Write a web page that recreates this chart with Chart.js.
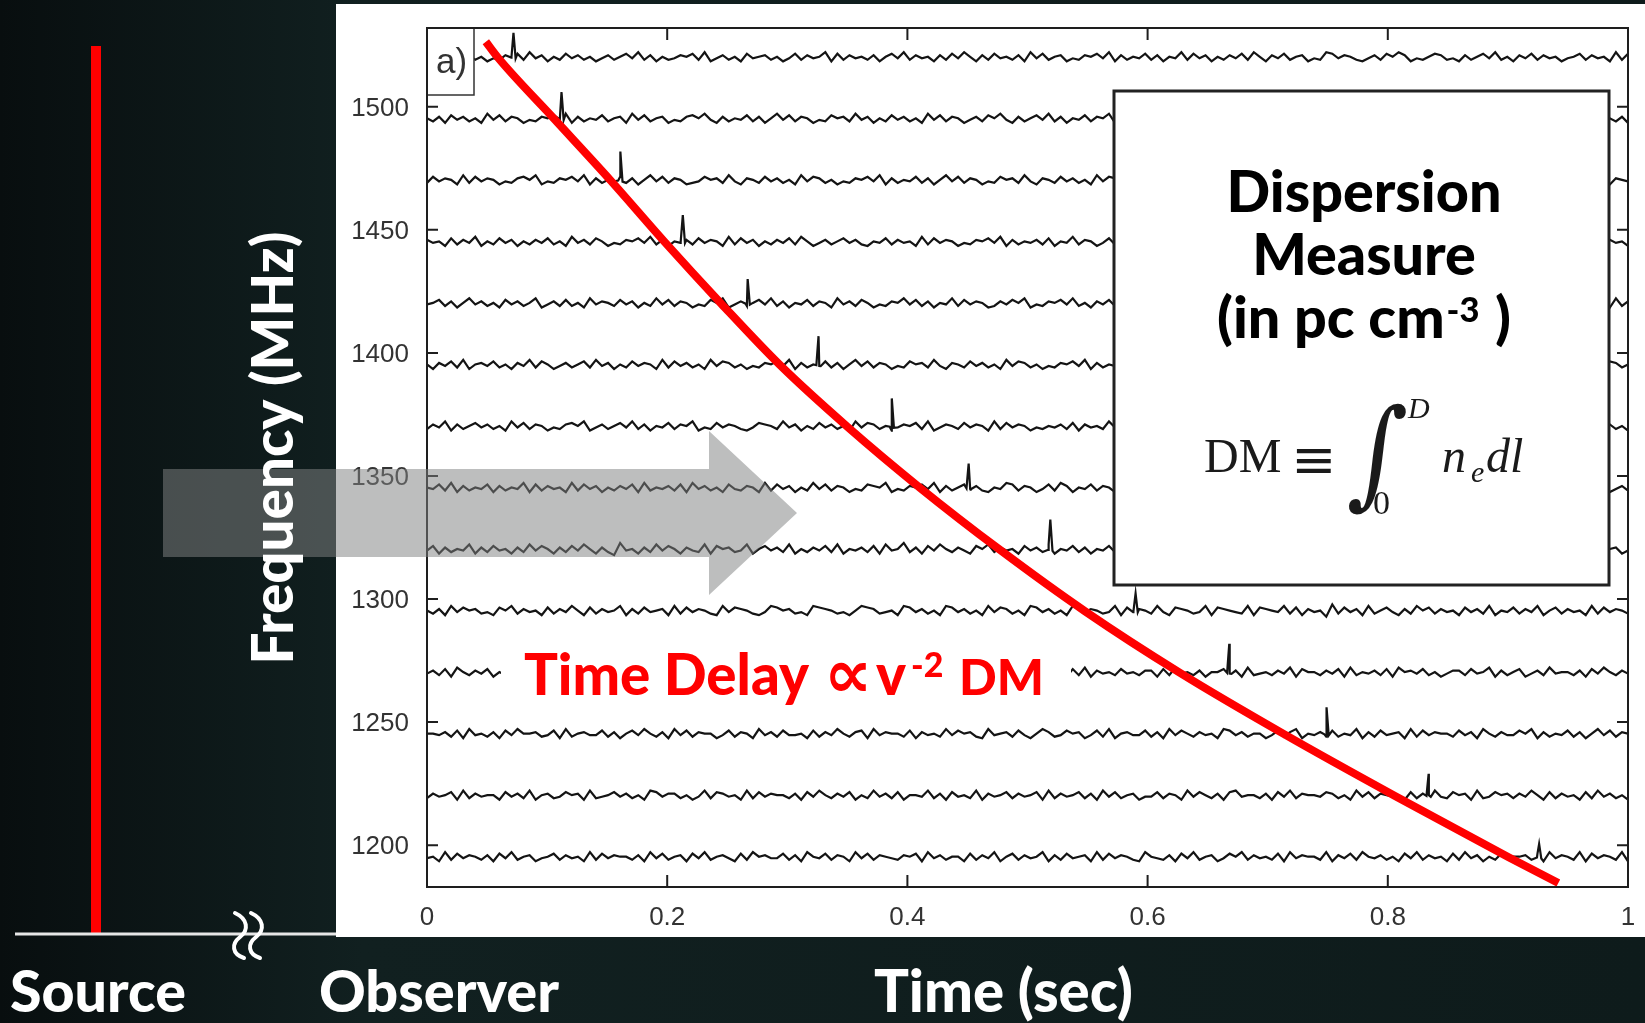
<!DOCTYPE html>
<html>
<head>
<meta charset="utf-8">
<script src="https://cdn.jsdelivr.net/npm/chart.js@4.4.0/dist/chart.umd.min.js"></script>
<style>
  html, body { margin: 0; padding: 0; background: #0c1616; overflow: hidden; }
  canvas { display: block; }
</style>
</head>
<body>
<canvas id="dispersionChart" width="1645" height="1023"></canvas>
<script>
// channel centre frequencies (MHz), top to bottom
const channels = [1520, 1495, 1470, 1445, 1420, 1395, 1370, 1345, 1320, 1295, 1270, 1245, 1220, 1195];
// arrival time of the pulse in each channel (sec)
const pulseTimes = [0.072, 0.112, 0.161, 0.213, 0.267, 0.326, 0.387, 0.451, 0.519, 0.590, 0.668, 0.749, 0.834, 0.926];
// pulse height above the channel baseline (MHz)
const pulseHeights = [10, 11, 11.8, 11, 10, 11.8, 11.5, 10, 12.3, 7.3, 11.8, 11, 9, 5.5];
// noise along each trace, one digit per sample, 4.5 = baseline
const traceNoise = [
  '46352746352436573846253746352463574836253465738246352745635247364582736453625748364526374852637453628473562436574826354736254837462536473852647356243874653246375862435763426357483526473645245736452837',
  '53627463528473652436574826354735628473562436758426354736258473652437563846253746352847365246375842635748362547365824374653247653846253746352847635246573824653746528374652435463726453846273546372845362',
  '37465283746524367582436574826354736258473652347563842653746352847635243657482635473625847365243756384265374635284763524365748263547362584736524374635283746524367582436574826354736258473652347563842654',
  '64527364825374625364735284637524365748362546374652837462536473852463574632547364528374652436574826354637254836524736528473645237465382647352643758463527463582647352645374625384736254364752836452736452',
  '45736258463527463582463735284653746253847365243758246357483625473652846375243658473625483746523647582436574835264735284637524635847362543674835264736253847362546375284637524635847362547365824637452836',
  '52647382564735264837524635738462537465283746352847635243657482635473625847365243756384265374635284763524365748263547362584736524375638426537463528476352436574826354736258473652437563842653746352847635',
  '36482635746352847365243675824635748362547365824374653247653846253746352847635246573824653746528374652435463726453846273546372845362546372846372546381946352736452836475362475836254736485273645273846352',
  '54738263547263548273645283746253647283546372846352743652837462538473652437658243657482635746325487365247386254736524374826357482635473625847365247385624374652837465243657382645374625384763526437582463',
  '47263548263745263847526374852631945263847526438275634825746382536473825463728459362748536427583645274638254736254738625473625487362654739265483726547352645738263574628357463758264357283647536284735624',
  '53628475634275836452736485273645826374562837465328476532487563428765342587634528746352874635284763528746352874653482746538427653482765438276548372645193746283574263857364527463825473648257364528374653',
  '46372853647253846372546382745637294563827465328463527483645273846253748362547382645372846538274653824455362738264537453662738453625574628345364827553647283546372856473524663745826357246384553627485364',
  '55463728453627485563472835644736257485362847365524736528463744527364853672846553726453847563284563742586347562473825644736284753645287463552473682546373548263745628374655374628536447582635473625847365',
  '36457283645527463825634756283457463528746635248376452837465536274853647253846372554836274538264573645728364573628473562447365284753627845536274836554763528473654427365843756283475636485273645273846352',
  '45283746536274835624573645283746553628473562748356427385644736285473652847365436572846355273648257364582637456283746532854362748356247583645372846553826473854635274836452738462537455637284653827465382'
];
const noiseStep = 0.62;   // MHz per noise digit
// red guide curve (where it crosses each channel)
const curveTimes = [0.049, 0.059, 0.106, 0.153, 0.198, 0.245, 0.294, 0.350, 0.411, 0.477, 0.548, 0.627, 0.714, 0.806, 0.901, 0.942];
const curveFreqs = [1526.4, 1520, 1495, 1470, 1445, 1420, 1395, 1370, 1345, 1320, 1295, 1270, 1245, 1220, 1195, 1184.6];
// axis ticks
const xTicks = [0, 0.2, 0.4, 0.6, 0.8, 1];
const yTicks = [1200, 1250, 1300, 1350, 1400, 1450, 1500];

const traceSets = channels.map((f, k) => {
  const digits = traceNoise[k];
  const pts = [];
  for (let i = 0; i < digits.length; i++) {
    pts.push({ x: i / (digits.length - 1), y: f + (Number(digits[i]) - 4.5) * noiseStep });
  }
  const tp = pulseTimes[k];
  pts.push({ x: tp - 0.0018, y: f }, { x: tp, y: f + pulseHeights[k] }, { x: tp + 0.0018, y: f - 0.4 });
  pts.sort((a, b) => a.x - b.x);
  return { data: pts, borderColor: '#141414', borderWidth: 2.2, pointRadius: 0, tension: 0, order: 1 };
});

const curveSet = {
  data: curveTimes.map((t, i) => ({ x: t, y: curveFreqs[i] })),
  borderColor: '#ff0000', borderWidth: 8, pointRadius: 0,
  cubicInterpolationMode: 'monotone', borderCapStyle: 'butt', order: 0
};

function fitFont(ctx, text, width, weight, family) {
  ctx.font = `${weight} 100px ${family}`;
  return 100 * width / ctx.measureText(text).width;
}

const slide = {
  id: 'slide',
  beforeDraw(chart) {
    const { ctx, width, height } = chart;
    const g = ctx.createLinearGradient(0, 0, width, 0);
    g.addColorStop(0, '#080e0f');
    g.addColorStop(0.22, '#112020');
    g.addColorStop(1, '#0e1b1b');
    ctx.save();
    ctx.fillStyle = g;
    ctx.fillRect(0, 0, width, height);
    ctx.fillStyle = '#fff';
    ctx.fillRect(336, 4, width - 336, 933);
    ctx.restore();
  },
  afterDatasetsDraw(chart) {
    const { ctx, chartArea: a, scales: { x, y } } = chart;
    ctx.save();
    ctx.textAlign = 'left';
    ctx.textBaseline = 'alphabetic';

    // white box behind the red caption, inset box, panel label box
    ctx.fillStyle = '#fff';
    ctx.fillRect(501, 641, 570, 72);
    ctx.fillRect(1114, 91, 495, 494);
    ctx.fillRect(a.left, a.top, 47, 67);
    ctx.strokeStyle = '#222';
    ctx.lineWidth = 3;
    ctx.strokeRect(1114, 91, 495, 494);
    ctx.lineWidth = 1.5;
    ctx.strokeStyle = '#333';
    ctx.strokeRect(a.left, a.top, 47, 67);
    ctx.fillStyle = '#333';
    ctx.font = '35px "Liberation Sans"';
    ctx.fillText('a)', 436, 73);

    // frame with inward ticks
    ctx.strokeStyle = '#1e1e1e';
    ctx.lineWidth = 2;
    ctx.strokeRect(a.left, a.top, a.right - a.left, a.bottom - a.top);
    ctx.beginPath();
    x.ticks.forEach(t => {
      const px = x.getPixelForValue(t.value);
      ctx.moveTo(px, a.bottom); ctx.lineTo(px, a.bottom - 12);
      ctx.moveTo(px, a.top); ctx.lineTo(px, a.top + 12);
    });
    y.ticks.forEach(t => {
      const py = y.getPixelForValue(t.value);
      ctx.moveTo(a.left, py); ctx.lineTo(a.left + 11, py);
      ctx.moveTo(a.right, py); ctx.lineTo(a.right - 11, py);
    });
    ctx.stroke();

    // red caption
    ctx.fillStyle = '#ff0000';
    const cs = fitFont(ctx, 'Time Delay', 285, '900', 'Lato');
    ctx.font = `900 ${cs}px Lato`;
    ctx.fillText('Time Delay', 524, 695);
    ctx.fillText('v', 876, 695);
    ctx.font = `900 ${fitFont(ctx, 'DM', 85, '900', 'Lato')}px Lato`;
    ctx.fillText('DM', 959, 695);
    ctx.font = `bold ${cs * 1.2}px "DejaVu Sans"`;
    ctx.fillText('\u221d', 824, 697);
    ctx.font = `900 ${cs * 0.6}px Lato`;
    ctx.fillText('-2', 911, 677);

    // inset text
    ctx.fillStyle = '#000';
    const ds = fitFont(ctx, 'Dispersion', 275, '900', 'Lato');
    ctx.font = `900 ${ds}px Lato`;
    ctx.textAlign = 'center';
    ctx.fillText('Dispersion', 1364, 212);
    ctx.fillText('Measure', 1364, 275);
    ctx.textAlign = 'left';
    const w1 = ctx.measureText('(in pc cm').width;
    const w3 = ctx.measureText(' )').width;
    ctx.font = `900 ${ds * 0.6}px Lato`;
    const w2 = ctx.measureText('-3').width;
    const x0 = 1364 - (w1 + w2 + w3 + 4) / 2;
    ctx.fillText('-3', x0 + w1 + 2, 322);
    ctx.font = `900 ${ds}px Lato`;
    ctx.fillText('(in pc cm', x0, 338);
    ctx.fillText(' )', x0 + w1 + w2 + 4, 338);

    // formula
    ctx.fillStyle = '#1a1a1a';
    ctx.font = '48px "Liberation Serif"';
    ctx.fillText('DM', 1204, 472);
    ctx.font = '54px "DejaVu Serif"';
    ctx.fillText('\u2261', 1291, 478);
    ctx.save();
    ctx.translate(1348, 493);
    ctx.transform(1, 0, -0.1, 1, 0, 0);
    ctx.scale(1, 1.18);
    ctx.font = '100px "DejaVu Serif"';
    ctx.fillText('\u222b', 0, 0);
    ctx.restore();
    ctx.font = 'italic 30px "Liberation Serif"';
    ctx.fillText('D', 1408, 418);
    ctx.fillText('e', 1471, 482);
    ctx.font = '34px "Liberation Serif"';
    ctx.fillText('0', 1373, 514);
    ctx.font = 'italic 48px "Liberation Serif"';
    ctx.fillText('n', 1442, 472);
    ctx.fillText('dl', 1486, 472);
    ctx.restore();
  },
  afterDraw(chart) {
    const { ctx } = chart;
    ctx.save();

    // translucent arrow
    ctx.fillStyle = 'rgba(128,130,130,0.52)';
    ctx.beginPath();
    ctx.moveTo(163, 469); ctx.lineTo(709, 469); ctx.lineTo(709, 431);
    ctx.lineTo(797, 513); ctx.lineTo(709, 595); ctx.lineTo(709, 557);
    ctx.lineTo(163, 557); ctx.closePath();
    ctx.fill();

    // source line, ground line and break mark
    ctx.fillStyle = '#ff0000';
    ctx.fillRect(91, 46, 10, 888);
    ctx.strokeStyle = '#e6e6e6';
    ctx.lineWidth = 3;
    ctx.beginPath(); ctx.moveTo(15, 934); ctx.lineTo(336, 934); ctx.stroke();
    ctx.strokeStyle = '#fff';
    ctx.lineWidth = 4;
    ctx.lineCap = 'round';
    [0, 16].forEach(dx => {
      ctx.beginPath();
      ctx.moveTo(235 + dx, 913);
      ctx.bezierCurveTo(248 + dx, 919, 249 + dx, 930, 240 + dx, 937);
      ctx.bezierCurveTo(231 + dx, 944, 232 + dx, 954, 244 + dx, 958);
      ctx.stroke();
    });

    // white labels
    ctx.fillStyle = '#fff';
    ctx.textAlign = 'left';
    ctx.textBaseline = 'alphabetic';
    [['Source', 10, 176], ['Observer', 319, 240], ['Time (sec)', 874, 259]].forEach(([t, x0, w]) => {
      ctx.font = `900 ${fitFont(ctx, t, w, '900', 'Lato')}px Lato`;
      ctx.fillText(t, x0, 1012);
    });
    ctx.translate(293, 448);
    ctx.rotate(-Math.PI / 2);
    ctx.font = `900 ${fitFont(ctx, 'Frequency (MHz)', 433, '900', 'Lato')}px Lato`;
    ctx.textAlign = 'center';
    ctx.fillText('Frequency (MHz)', 0, 0);
    ctx.restore();
  }
};

new Chart(document.getElementById('dispersionChart').getContext('2d'), {
  type: 'line',
  data: { datasets: [curveSet, ...traceSets] },
  options: {
    responsive: false,
    animation: false,
    devicePixelRatio: 1,
    layout: { padding: { left: 0, right: 17, top: 28, bottom: 0 } },
    plugins: { legend: { display: false }, tooltip: { enabled: false } },
    scales: {
      x: {
        type: 'linear', min: 0, max: 1,
        afterBuildTicks: s => { s.ticks = xTicks.map(v => ({ value: v })); },
        afterFit: s => { s.height = 136; s.paddingLeft = 0; s.paddingRight = 0; },
        grid: { display: false, drawTicks: false },
        border: { display: false },
        ticks: {
          padding: 15, color: '#333', autoSkip: false, maxRotation: 0,
          font: { family: 'Liberation Sans', size: 26 },
          callback: v => String(v)
        }
      },
      y: {
        type: 'linear', min: 1183, max: 1532,
        afterBuildTicks: s => { s.ticks = yTicks.map(v => ({ value: v })); },
        afterFit: s => { s.width = 427; s.paddingTop = 0; s.paddingBottom = 0; },
        grid: { display: false, drawTicks: false },
        border: { display: false },
        ticks: {
          padding: 18, labelOffset: 2, color: '#333', autoSkip: false,
          font: { family: 'Liberation Sans', size: 26 },
          callback: v => String(v)
        }
      }
    }
  },
  plugins: [slide]
});
</script>
</body>
</html>
